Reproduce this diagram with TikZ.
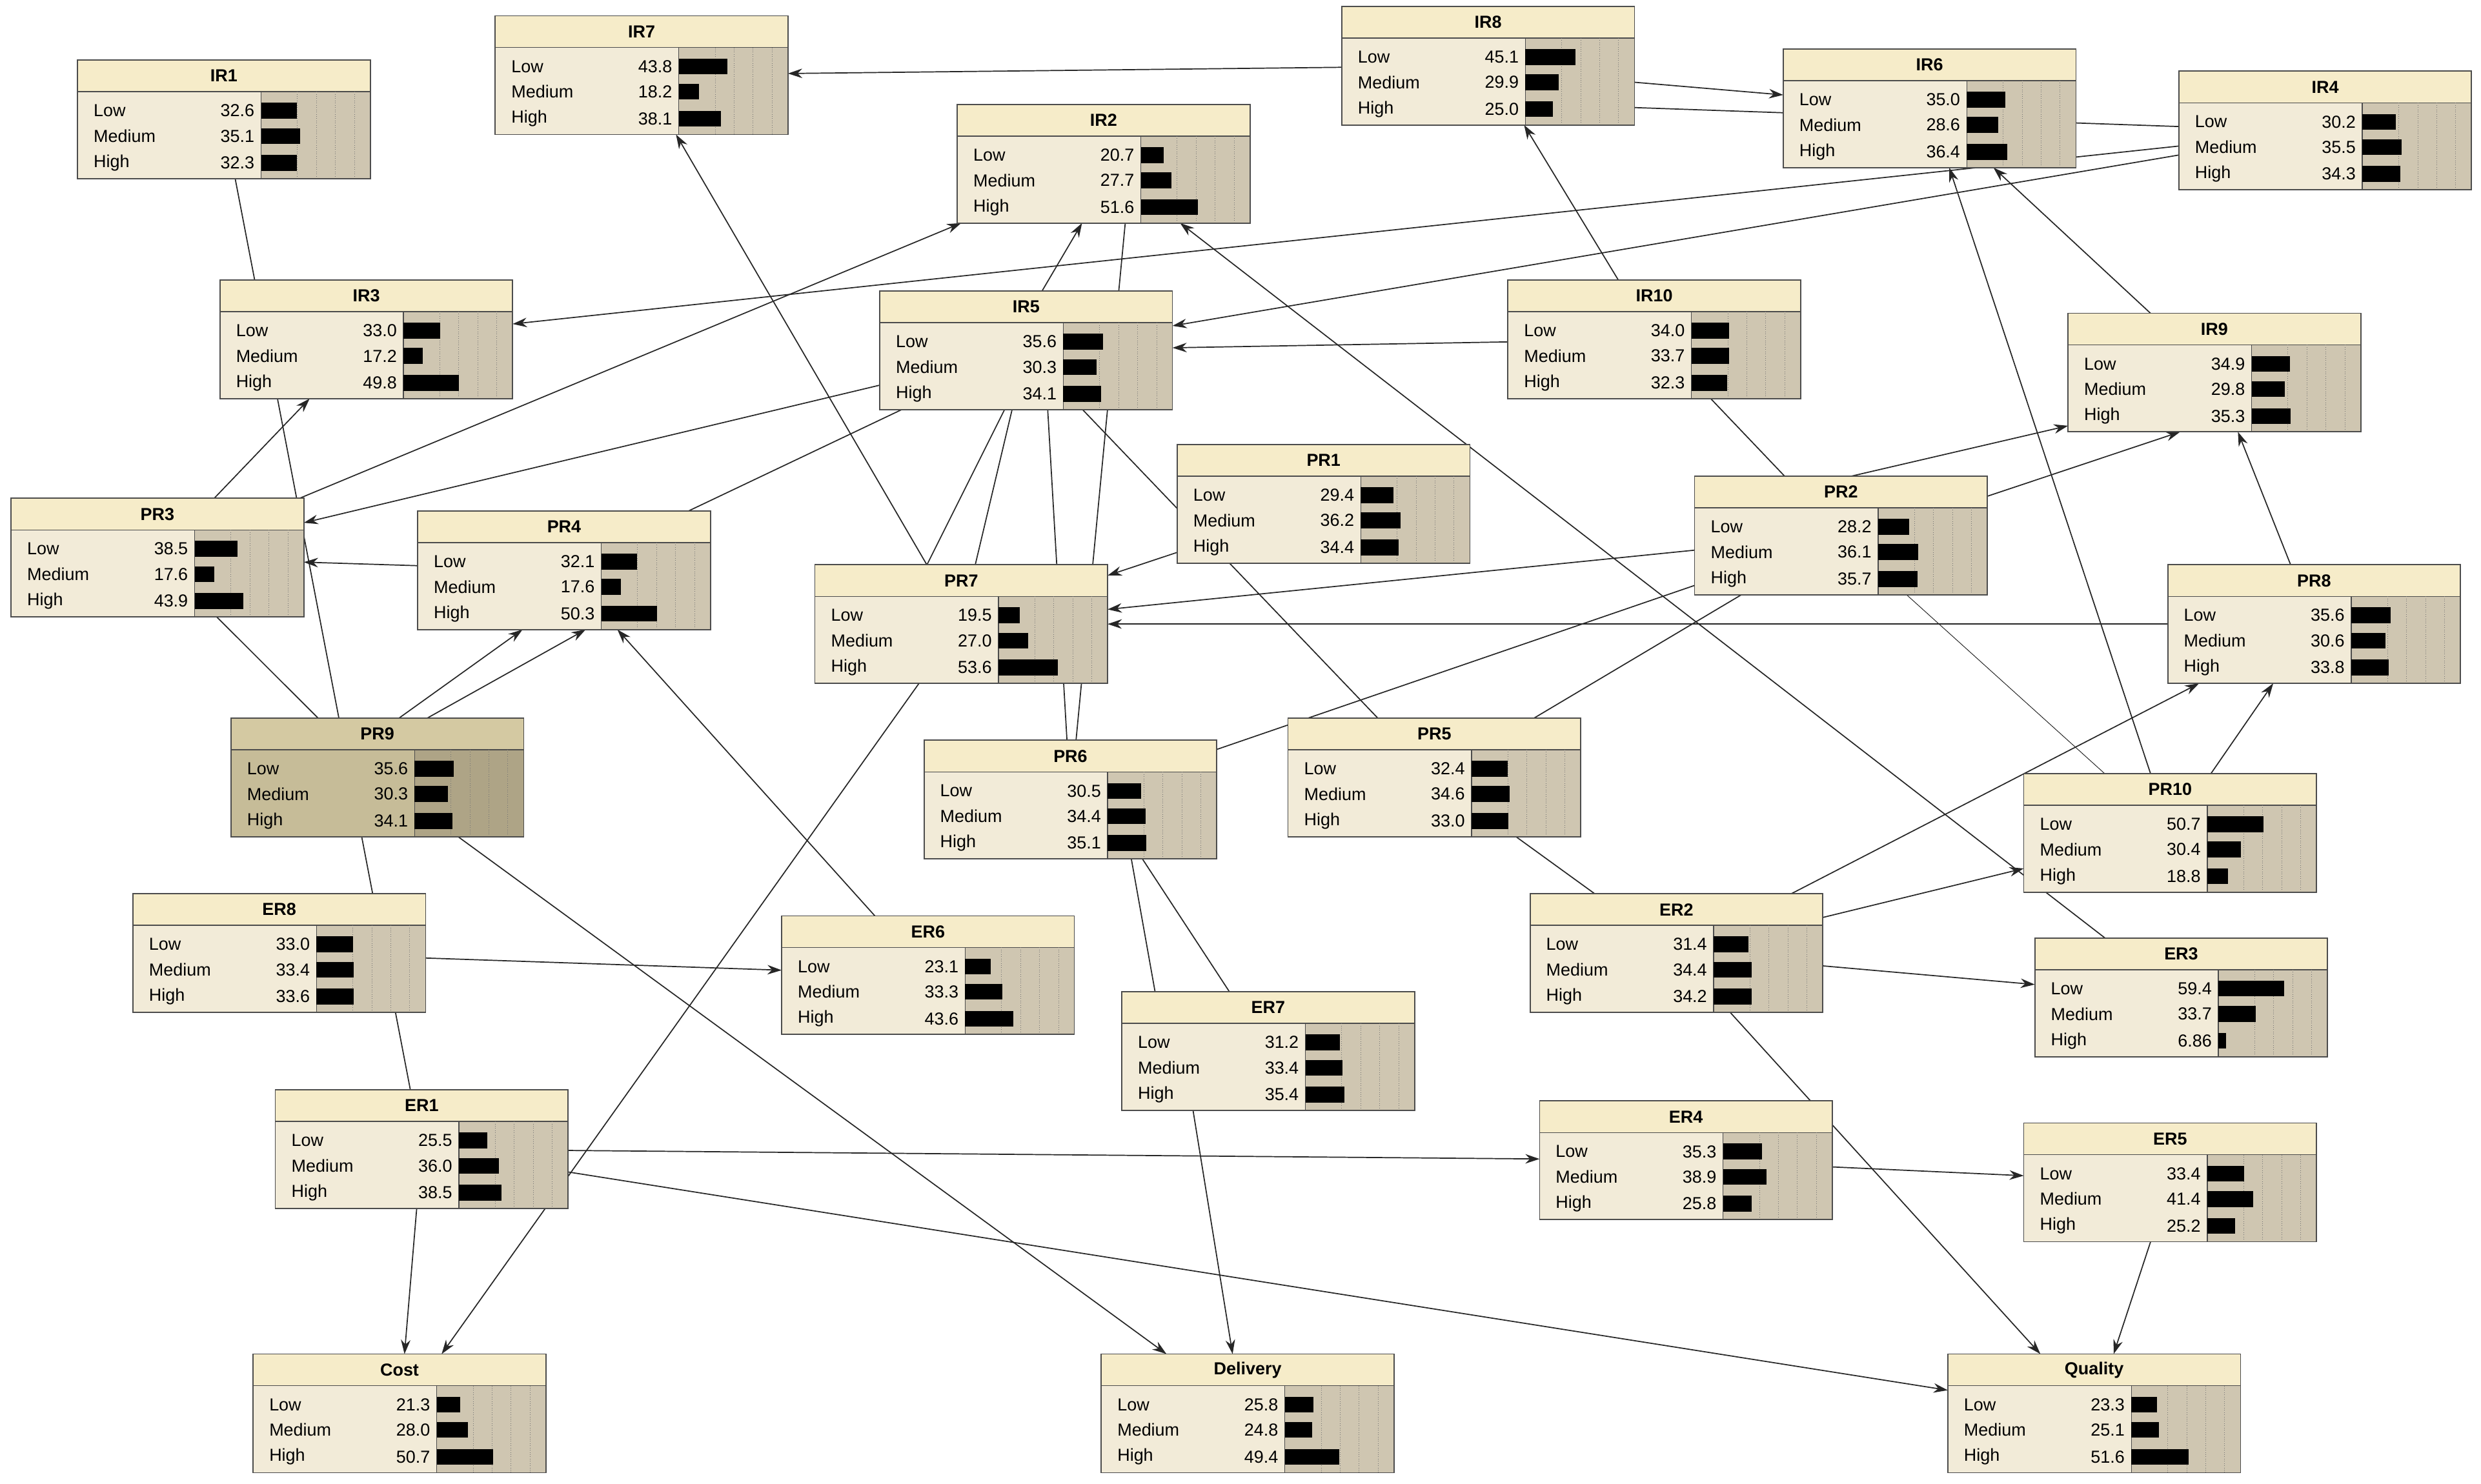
\documentclass[tikz,border=0pt]{standalone}
\usepackage{fontspec}
\setmainfont{Liberation Sans}
\usetikzlibrary{backgrounds,arrows.meta,calc}
\pgfdeclarelayer{edges}
\pgfsetlayers{background,edges,main}
\definecolor{titL}{HTML}{F6ECC9}\definecolor{bodyL}{HTML}{F2EBD8}\definecolor{barL}{HTML}{CFC6B1}
\definecolor{titD}{HTML}{D4C9A2}\definecolor{bodyD}{HTML}{C6BC98}\definecolor{barD}{HTML}{AEA486}
\tikzset{
  ed/.style={black!85,line width=0.7pt},
  ar/.style={ed,-{Stealth[length=9pt,width=6pt]}},
  box/.style={draw=black!70,line width=0.7pt,minimum width=185pt,minimum height=75pt,anchor=north west,inner sep=0pt,outer sep=0pt},
  lab/.style={font=\fontsize{11}{12}\selectfont,inner sep=0pt}
}
\newcommand\bn[8]{%
  \node[box,fill=body#8] (#1) at (#2,#3) {};
  \begin{scope}[shift={(#2,#3)}]
    \fill[tit#8] (0,0) rectangle (185,20);
    \fill[bar#8] (116,20) rectangle (185,75);
    \draw[black!70,line width=0.6pt] (0,20) -- (185,20) (116,20) -- (116,75);
    \foreach \xx in {139,151,163,175}{\draw[black!55,densely dotted] (\xx,20) -- (\xx,75);}
    \node[lab,font=\fontsize{11}{12}\selectfont\bfseries] at (92.5,10) {#4};
    \node[lab,anchor=west] at (10,32) {Low};
    \node[lab,anchor=west] at (10,48) {Medium};
    \node[lab,anchor=west] at (10,65) {High};
    \node[lab,anchor=east] at (112,32) {#5};
    \node[lab,anchor=east] at (112,48) {#6};
    \node[lab,anchor=east] at (112,65) {#7};
    \fill[black] (116,27) rectangle ({116+0.7*#5},37);
    \fill[black] (116,43) rectangle ({116+0.7*#6},53);
    \fill[black] (116,60) rectangle ({116+0.7*#7},70);
  \end{scope}
  \draw[black!70,line width=0.7pt] (#1.north west) rectangle (#1.south east);
}
\begin{document}
\begin{tikzpicture}[x=1pt,y=-1pt]
\begin{pgfonlayer}{background}
\fill[white] (0,0) rectangle (1568,938);
\end{pgfonlayer}
\useasboundingbox (0,0) rectangle (1568,938);
\bn{IR1}{49}{38}{IR1}{32.6}{35.1}{32.3}{L}
\bn{IR7}{313}{10}{IR7}{43.8}{18.2}{38.1}{L}
\bn{IR8}{848}{4}{IR8}{45.1}{29.9}{25.0}{L}
\bn{IR6}{1127}{31}{IR6}{35.0}{28.6}{36.4}{L}
\bn{IR4}{1377}{45}{IR4}{30.2}{35.5}{34.3}{L}
\bn{IR2}{605}{66}{IR2}{20.7}{27.7}{51.6}{L}
\bn{IR3}{139}{177}{IR3}{33.0}{17.2}{49.8}{L}
\bn{IR5}{556}{184}{IR5}{35.6}{30.3}{34.1}{L}
\bn{IR10}{953}{177}{IR10}{34.0}{33.7}{32.3}{L}
\bn{IR9}{1307}{198}{IR9}{34.9}{29.8}{35.3}{L}
\bn{PR3}{7}{315}{PR3}{38.5}{17.6}{43.9}{L}
\bn{PR4}{264}{323}{PR4}{32.1}{17.6}{50.3}{L}
\bn{PR1}{744}{281}{PR1}{29.4}{36.2}{34.4}{L}
\bn{PR2}{1071}{301}{PR2}{28.2}{36.1}{35.7}{L}
\bn{PR7}{515}{357}{PR7}{19.5}{27.0}{53.6}{L}
\bn{PR8}{1370}{357}{PR8}{35.6}{30.6}{33.8}{L}
\bn{PR9}{146}{454}{PR9}{35.6}{30.3}{34.1}{D}
\bn{PR6}{584}{468}{PR6}{30.5}{34.4}{35.1}{L}
\bn{PR5}{814}{454}{PR5}{32.4}{34.6}{33.0}{L}
\bn{PR10}{1279}{489}{PR10}{50.7}{30.4}{18.8}{L}
\bn{ER8}{84}{565}{ER8}{33.0}{33.4}{33.6}{L}
\bn{ER6}{494}{579}{ER6}{23.1}{33.3}{43.6}{L}
\bn{ER2}{967}{565}{ER2}{31.4}{34.4}{34.2}{L}
\bn{ER3}{1286}{593}{ER3}{59.4}{33.7}{6.86}{L}
\bn{ER7}{709}{627}{ER7}{31.2}{33.4}{35.4}{L}
\bn{ER1}{174}{689}{ER1}{25.5}{36.0}{38.5}{L}
\bn{ER4}{973}{696}{ER4}{35.3}{38.9}{25.8}{L}
\bn{ER5}{1279}{710}{ER5}{33.4}{41.4}{25.2}{L}
\bn{Cost}{160}{856}{Cost}{21.3}{28.0}{50.7}{L}
\bn{Delivery}{696}{856}{Delivery}{25.8}{24.8}{49.4}{L}
\bn{Quality}{1231}{856}{Quality}{23.3}{25.1}{51.6}{L}
\begin{pgfonlayer}{edges}
\draw[ar] (IR8) -- (IR7);
\draw[ar] ($(IR8.north east)+(0,48)$) -- ($(IR6.north west)+(0,29)$);
\draw[ed] ($(IR4.north west)+(0,35)$) -- ($(IR8.north east)+(0,64)$);
\draw[ar] (IR4) -- (IR3);
\draw[ar] (IR4) -- (IR5);
\draw[ar] (IR10) -- (IR5);
\draw[ar] (PR3) -- (IR2);
\draw[ar] (IR5.75) -- (IR2.250);
\draw[ed] (PR6) -- (IR2.290);
\draw[ar] (IR5) -- (PR3);
\draw[ed] (IR5) -- (PR4);
\draw[ar] (PR1) -- (PR7);
\draw[ar] (PR2) -- (PR7);
\draw[ar] (PR8) -- (PR7);
\draw[ar] (PR2.80) -- (IR9.200);
\draw[ar] (PR2.15) -- (IR9.240);
\draw[ar] (PR8) -- (IR9);
\draw[ar] (PR10) -- (IR6);
\draw[ar] (IR9) -- (IR6);
\draw[ar] (IR10) -- (IR8);
\draw[ar] (PR7) -- (IR7);
\draw[ar] (ER3) -- (IR2);
\draw[ar] (PR4) -- (PR3);
\draw[ar] (PR3) -- (IR3);
\draw[ar] (PR9.70) -- (PR4.235);
\draw[ar] (PR9.50) -- (PR4.290);
\draw[ar] (ER6) -- (PR4);
\draw[ed] (IR1) -- (ER1);
\draw[ed] (PR3) -- (PR9);
\draw[ar] (ER8) -- (ER6);
\draw[ar] (PR9) -- (Delivery);
\draw[ar] (PR7) -- (Cost);
\draw[ar] (ER1) -- (Cost);
\draw[ar] (ER1) -- (ER4);
\draw[ar] (ER1) -- (Quality);
\draw[ar] ($(ER7.south west)+(45,0)$) -- ($(Delivery.north west)+(83,0)$);
\draw[ed] ($(PR6.south west)+(131,0)$) -- ($(ER7.north west)+(21,0)$);
\draw[ed] ($(PR6.south west)+(138,0)$) -- ($(ER7.north west)+(68,0)$);
\draw[ed] (PR6) -- (PR2);
\draw[ed] (PR5) -- (PR2);
\draw[ed] (IR10) -- (PR2);
\draw[ed,line width=0.4pt] (PR2) -- (PR10);
\draw[ar] (ER2) -- (PR10);
\draw[ar] (ER2) -- (PR8);
\draw[ar] (ER2) -- (ER3);
\draw[ed] (PR5) -- (ER2);
\draw[ar] (ER2) -- (Quality);
\draw[ar] (ER4) -- (ER5);
\draw[ar] (ER5) -- (Quality);
\draw[ed] (IR5) -- (PR5);
\draw[ar] (PR10) -- (PR8);
\draw[ed] (IR5.250) -- (PR7.120);
\draw[ed] (IR5) -- (PR7);
\draw[ed] (IR5.290) -- (PR6);
\end{pgfonlayer}
\end{tikzpicture}
\end{document}
